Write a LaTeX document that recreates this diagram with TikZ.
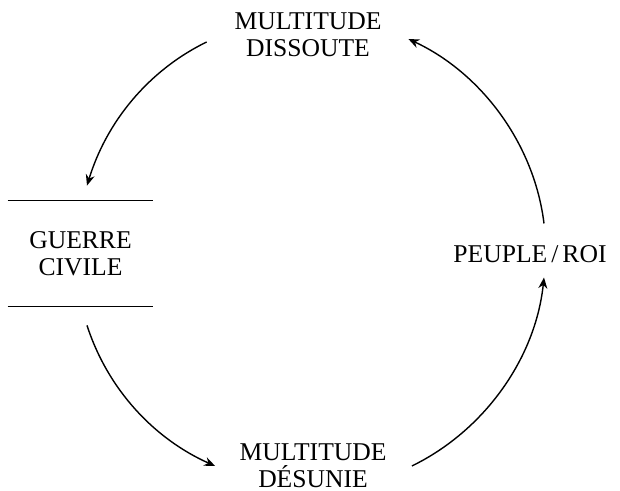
\documentclass[tikz,border=0pt]{standalone}
\usepackage{fontspec}
\setmainfont{Liberation Serif}
\usepackage{tikz}
\usetikzlibrary{arrows.meta, positioning, calc}

\newcommand{\cyclefont}{\fontsize{12.8}{13.5}\selectfont}
\newcommand{\wideslash}{\kern2pt/\kern2pt}

\begin{document}
\begin{tikzpicture}[
    x=0.5pt, y=0.5pt,
    label_txt/.style={font=\cyclefont, align=center, inner sep=0pt},
    store/.style={font=\cyclefont, align=center, inner sep=0pt, minimum width=72.5pt, minimum height=52.5pt},
    bar/.style={line width=0.8pt},
    arrow/.style={-{Stealth[length=5.5pt, width=4.5pt]}, line width=0.7pt, looseness=0.9}
]
\useasboundingbox (0,0) rectangle (620,-491);

\node[label_txt] (dissoute) at (308,-35) {MULTITUDE\\DISSOUTE};
\node[store] (guerre) at (80.5,-253.5) {GUERRE\\CIVILE};
\node[label_txt] (desunie) at (313,-466) {MULTITUDE\\DÉSUNIE};
\node[label_txt] (peuple) at (530,-254) {PEUPLE\wideslash ROI};

% the two bars of the store
\draw[bar] (guerre.north west) -- (guerre.north east);
\draw[bar] (guerre.south west) -- (guerre.south east);

% the cycle
\draw[arrow] ([shift={(-27.5,-7)}]dissoute.west) to[out=206, in=73] ([shift={(6.5,15)}]guerre.north);
\draw[arrow] ([shift={(6.5,-19)}]guerre.south) to[out=288, in=156] ([shift={(-24,0)}]desunie.west);
\draw[arrow] ([shift={(25,0)}]desunie.east) to[out=26, in=264] ([shift={(14,-14.5)}]peuple.south);
\draw[arrow] ([shift={(14,21.5)}]peuple.north) to[out=97, in=335] ([shift={(26.5,-4)}]dissoute.east);

\end{tikzpicture}
\end{document}
